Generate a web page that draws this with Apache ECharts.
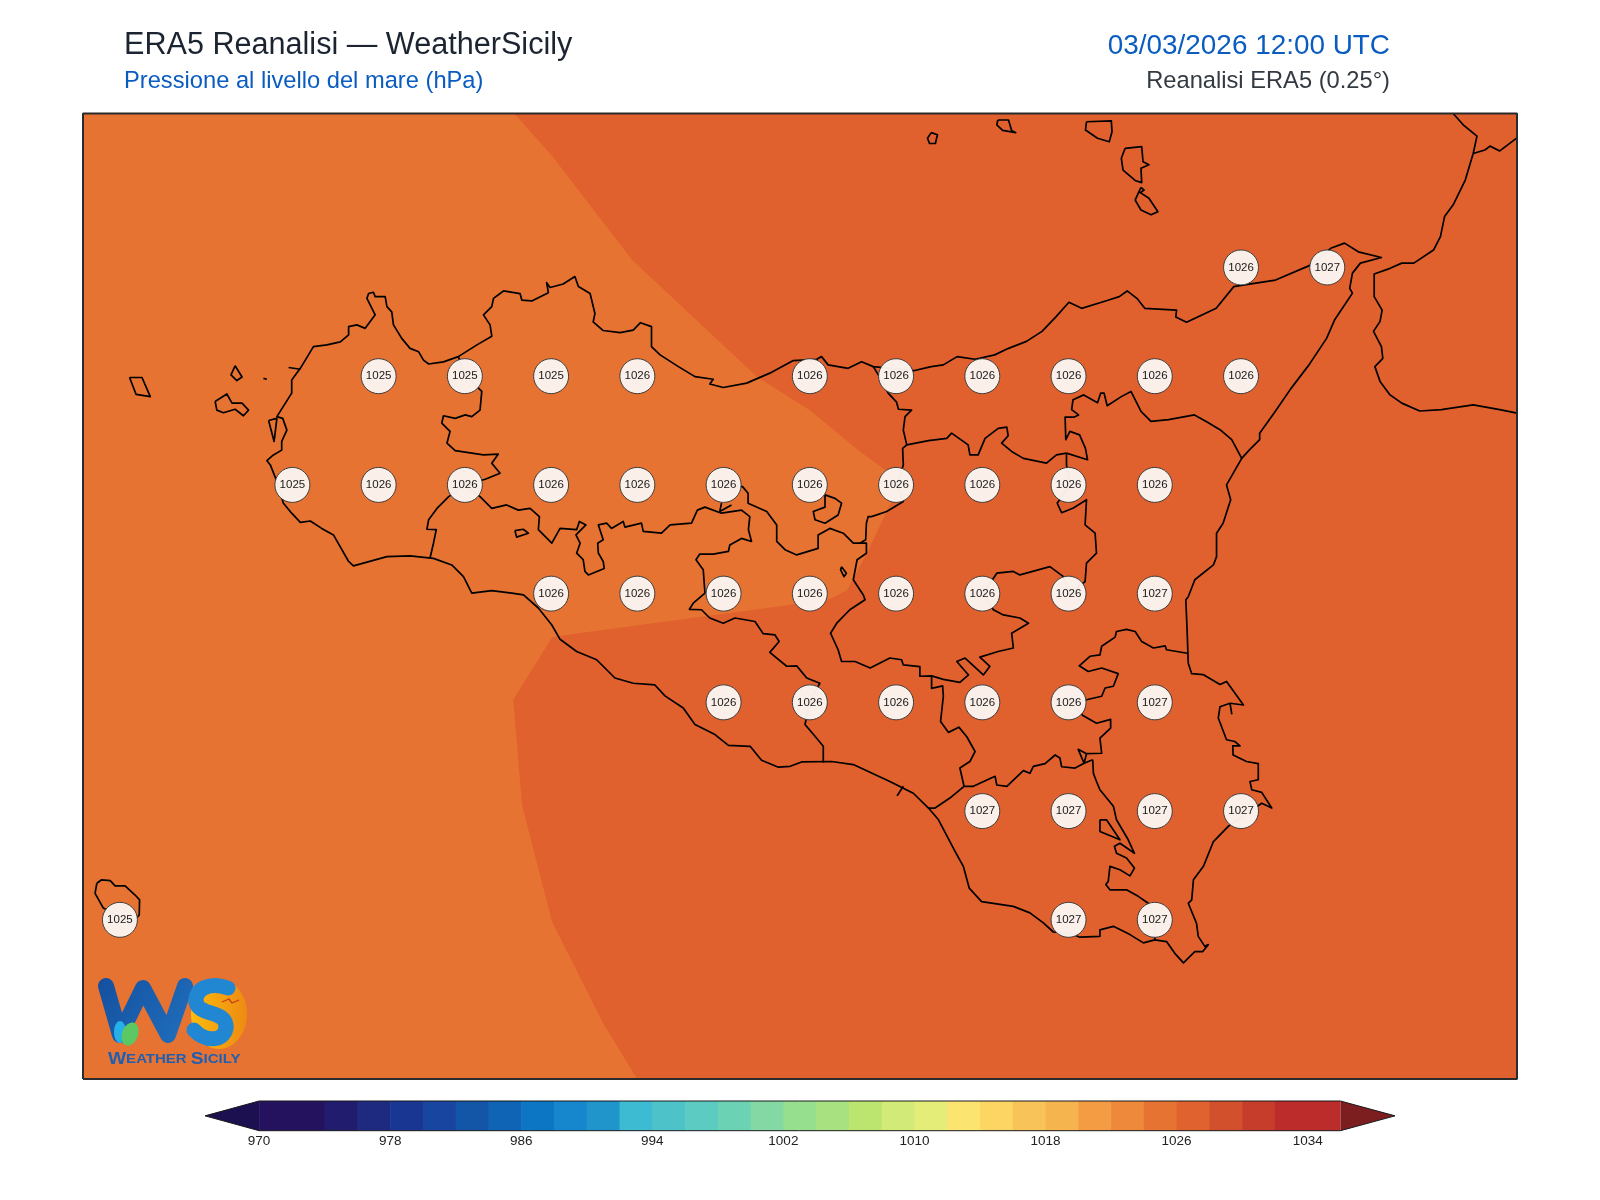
<!DOCTYPE html>
<html>
<head>
<meta charset="utf-8">
<title>ERA5 Reanalisi</title>
<script src="https://cdn.jsdelivr.net/npm/echarts@6/dist/echarts.min.js"></script>
<style>
  html, body { margin: 0; padding: 0; background: #fff; }
  #chart { width: 1600px; height: 1200px; }
</style>
</head>
<body>
<div id="chart"></div>
<script>
// map window, lon / lat degrees
const lonMin = 11.893
const lonMax = 16.05
const latMin = 36.384
const latMax = 38.604

// ERA5 grid points that get a pressure label
const pointLon = [
  15.25, 15.5,
  12.75, 13, 13.25, 13.5, 14, 14.25, 14.5, 14.75, 15, 15.25,
  12.5, 12.75, 13, 13.25, 13.5, 13.75, 14, 14.25, 14.5, 14.75, 15,
  13.25, 13.5, 13.75, 14, 14.25, 14.5, 14.75, 15,
  13.75, 14, 14.25, 14.5, 14.75, 15,
  14.5, 14.75, 15, 15.25,
  12, 14.75, 15
]
const pointLat = [
  38.25, 38.25,
  38, 38, 38, 38, 38, 38, 38, 38, 38, 38,
  37.75, 37.75, 37.75, 37.75, 37.75, 37.75, 37.75, 37.75, 37.75, 37.75, 37.75,
  37.5, 37.5, 37.5, 37.5, 37.5, 37.5, 37.5, 37.5,
  37.25, 37.25, 37.25, 37.25, 37.25, 37.25,
  37, 37, 37, 37,
  36.75, 36.75, 36.75
]
const pointHpa = [
  1026, 1027,
  1025, 1025, 1025, 1026, 1026, 1026, 1026, 1026, 1026, 1026,
  1025, 1026, 1026, 1026, 1026, 1026, 1026, 1026, 1026, 1026, 1026,
  1026, 1026, 1026, 1026, 1026, 1026, 1026, 1027,
  1026, 1026, 1026, 1026, 1026, 1027,
  1027, 1027, 1027, 1027,
  1025, 1027, 1027
]

// colour bar
const levels = [970, 972, 974, 976, 978, 980, 982, 984, 986, 988, 990, 992, 994, 996, 998, 1000, 1002,
  1004, 1006, 1008, 1010, 1012, 1014, 1016, 1018, 1020, 1022, 1024, 1026, 1028, 1030, 1032, 1034]
const levelColors = ['#24125E', '#24125E', '#211C6E', '#1E2A80', '#193692', '#17459F', '#1356A8', '#1064B5',
  '#0C76C5', '#1686CD', '#2095CC', '#3DBBD2', '#4DC2C8', '#5CCCC2', '#6BD3B3', '#84D8A4', '#96DF8F',
  '#A8E180', '#BBE56F', '#D2EA77', '#E3ED78', '#FCE470', '#FCD562', '#F8C45A', '#F6B44E', '#F39C43',
  '#EE893B', '#E77332', '#E0622E', '#D3502D', '#C63D2C', '#BC2C2B', '#BC2C2B']
const barTicks = [970, 978, 986, 994, 1002, 1010, 1018, 1026, 1034]
const barLow = 970
const barHigh = 1036
const extendLow = 966.7
const extendHigh = 1039.33
const underColor = '#1C1050'
const overColor = '#7C1D1F'

// filled pressure bands
const band1026 = [[lonMin, latMin], [lonMax, latMin], [lonMax, latMax], [lonMin, latMax]]
const band1024 = [[lonMin, latMax], [13.143, latMax], [13.25, 38.509], [13.485, 38.267], [13.847, 37.998],
  [13.999, 37.922], [14.146, 37.826], [14.238, 37.773], [14.253, 37.738], [14.218, 37.681], [14.166, 37.594],
  [14.108, 37.508], [14.053, 37.486], [13.276, 37.403], [13.253, 37.4], [13.14, 37.256], [13.166, 37.012],
  [13.253, 36.745], [13.398, 36.516], [13.499, latMin], [lonMin, latMin]]

// Sicily, anticlockwise from the Agrigento coast going west
const sicilyCoast = [[12.996, 37.539], [12.962, 37.566], [12.909, 37.581], [12.841, 37.587], [12.774, 37.585],
  [12.677, 37.564], [12.663, 37.574], [12.619, 37.635], [12.585, 37.65], [12.552, 37.667], [12.523, 37.664],
  [12.498, 37.685], [12.474, 37.708], [12.455, 37.758], [12.436, 37.796], [12.426, 37.806], [12.445, 37.819],
  [12.469, 37.83], [12.469, 37.85], [12.484, 37.876], [12.472, 37.903], [12.455, 37.907], [12.498, 37.961],
  [12.498, 37.991], [12.523, 38.018], [12.561, 38.068], [12.6, 38.072], [12.639, 38.079], [12.663, 38.095],
  [12.663, 38.114], [12.687, 38.118], [12.711, 38.11], [12.74, 38.141], [12.716, 38.179], [12.721, 38.19],
  [12.735, 38.193], [12.74, 38.183], [12.769, 38.183], [12.774, 38.16], [12.788, 38.148], [12.793, 38.118],
  [12.817, 38.087], [12.841, 38.064], [12.866, 38.056], [12.88, 38.037], [12.895, 38.028], [12.938, 38.033],
  [12.981, 38.045], [13.035, 38.072], [13.078, 38.092], [13.073, 38.118], [13.054, 38.141], [13.078, 38.16],
  [13.083, 38.179], [13.112, 38.196], [13.16, 38.19], [13.165, 38.175], [13.194, 38.173], [13.242, 38.192],
  [13.237, 38.215], [13.247, 38.204], [13.285, 38.212], [13.319, 38.229], [13.329, 38.206], [13.363, 38.19],
  [13.377, 38.144], [13.372, 38.125], [13.401, 38.105], [13.45, 38.1], [13.488, 38.106], [13.509, 38.123],
  [13.541, 38.114], [13.541, 38.068], [13.566, 38.049], [13.619, 38.022], [13.667, 37.999], [13.72, 37.993],
  [13.71, 37.982], [13.749, 37.974], [13.817, 37.984], [13.884, 38.007], [13.952, 38.036], [14.02, 38.039],
  [14.034, 38.045], [14.053, 38.026], [14.111, 38.018], [14.15, 38.033], [14.184, 38.022], [14.304, 38.013],
  [14.352, 38.022], [14.387, 38.026], [14.427, 38.045], [14.479, 38.039], [14.536, 38.049], [14.576, 38.064],
  [14.628, 38.08], [14.673, 38.103], [14.714, 38.137], [14.751, 38.17], [14.788, 38.156], [14.862, 38.174],
  [14.897, 38.183], [14.92, 38.196], [14.948, 38.179], [14.971, 38.156], [15.063, 38.152], [15.061, 38.136],
  [15.092, 38.124], [15.132, 38.139], [15.178, 38.156], [15.229, 38.206], [15.269, 38.211], [15.35, 38.221],
  [15.453, 38.256], [15.51, 38.294], [15.55, 38.306], [15.59, 38.286], [15.657, 38.273], [15.596, 38.26],
  [15.573, 38.237], [15.565, 38.202], [15.573, 38.191], [15.521, 38.129], [15.498, 38.087], [15.447, 38.026],
  [15.395, 37.972], [15.349, 37.919], [15.304, 37.869], [15.304, 37.854], [15.275, 37.831], [15.252, 37.811],
  [15.208, 37.75], [15.22, 37.716], [15.198, 37.662], [15.179, 37.639], [15.179, 37.585], [15.17, 37.566],
  [15.116, 37.532], [15.097, 37.493], [15.09, 37.486], [15.094, 37.409], [15.097, 37.34], [15.107, 37.316],
  [15.14, 37.314], [15.189, 37.291], [15.208, 37.298], [15.257, 37.244], [15.218, 37.248], [15.223, 37.224],
  [15.218, 37.248], [15.189, 37.24], [15.184, 37.214], [15.208, 37.164], [15.232, 37.16], [15.247, 37.15],
  [15.226, 37.15], [15.227, 37.129], [15.266, 37.114], [15.3, 37.109], [15.3, 37.072], [15.276, 37.068],
  [15.281, 37.049], [15.31, 37.043], [15.339, 37.007], [15.31, 37.018], [15.213, 36.965], [15.17, 36.93],
  [15.141, 36.873], [15.112, 36.842], [15.107, 36.796], [15.097, 36.788], [15.121, 36.742], [15.126, 36.712],
  [15.145, 36.689], [15.155, 36.693], [15.139, 36.677], [15.116, 36.677], [15.083, 36.651], [15.058, 36.673],
  [15.034, 36.7], [15, 36.704], [14.967, 36.697], [14.928, 36.716], [14.88, 36.735], [14.841, 36.727],
  [14.841, 36.712], [14.783, 36.71], [14.754, 36.719], [14.706, 36.722], [14.677, 36.743], [14.638, 36.766],
  [14.59, 36.781], [14.498, 36.792], [14.462, 36.823], [14.445, 36.873], [14.424, 36.903], [14.373, 36.98],
  [14.344, 37.007], [14.3, 37.041], [14.232, 37.068], [14.126, 37.107], [14.063, 37.114], [13.976, 37.113],
  [13.943, 37.103], [13.909, 37.101], [13.86, 37.117], [13.827, 37.149], [13.764, 37.151], [13.725, 37.176],
  [13.667, 37.199], [13.633, 37.237], [13.58, 37.265], [13.551, 37.29], [13.488, 37.294], [13.435, 37.306],
  [13.382, 37.348], [13.324, 37.367], [13.276, 37.395], [13.252, 37.428], [13.213, 37.467], [13.17, 37.497],
  [13.136, 37.501], [13.078, 37.507], [13.02, 37.501], [12.996, 37.539]]

// Calabria
const calabriaCoast = [[15.865, 38.604], [15.894, 38.578], [15.934, 38.552], [15.923, 38.512], [15.9, 38.451],
  [15.865, 38.394], [15.84, 38.367], [15.828, 38.321], [15.808, 38.29], [15.751, 38.26], [15.716, 38.26],
  [15.682, 38.248], [15.636, 38.235], [15.636, 38.183], [15.659, 38.152], [15.653, 38.126], [15.634, 38.103],
  [15.657, 38.068], [15.661, 38.041], [15.638, 38.022], [15.653, 37.988], [15.682, 37.957], [15.716, 37.938],
  [15.768, 37.92], [15.831, 37.923], [15.923, 37.934], [16, 37.923], [lonMax, 37.915]]
const calabriaNorth = [[15.923, 38.512], [15.957, 38.52], [15.972, 38.529], [16, 38.518], [lonMax, 38.548]]

// islands, closed when drawn
const marettimo = [[12.028, 37.997], [12.064, 37.997], [12.088, 37.953], [12.047, 37.958]]
const favignana = [[12.276, 37.942], [12.31, 37.959], [12.325, 37.938], [12.354, 37.938], [12.373, 37.922],
  [12.358, 37.909], [12.334, 37.924], [12.3, 37.916], [12.281, 37.922]]
const levanzo = [[12.334, 38.024], [12.354, 37.998], [12.339, 37.99], [12.322, 38.003]]
const stagnone = [[12.431, 37.898], [12.455, 37.903], [12.447, 37.85]]
const alicudi = [[14.352, 38.56], [14.37, 38.555], [14.364, 38.535], [14.347, 38.535], [14.341, 38.547]]
const filicudi = [[14.545, 38.589], [14.576, 38.589], [14.585, 38.565], [14.597, 38.56], [14.559, 38.565], [14.542, 38.578]]
const salina = [[14.802, 38.585], [14.874, 38.587], [14.876, 38.562], [14.868, 38.539], [14.834, 38.547], [14.799, 38.566]]
const lipari = [[14.914, 38.524], [14.962, 38.528], [14.966, 38.493], [14.983, 38.486], [14.96, 38.478],
  [14.962, 38.445], [14.943, 38.45], [14.908, 38.474], [14.903, 38.501]]
const vulcano = [[14.96, 38.434], [14.969, 38.428], [14.958, 38.422], [14.983, 38.409], [15.009, 38.378],
  [14.989, 38.371], [14.96, 38.382], [14.943, 38.405]]
const pantelleria = [[11.933, 36.834], [11.947, 36.842], [11.972, 36.84], [11.986, 36.828], [12.015, 36.828],
  [12.044, 36.807], [12.057, 36.796], [12.056, 36.761], [12.034, 36.742], [11.952, 36.777], [11.928, 36.811]]
const lakePiana = [[13.145, 37.645], [13.169, 37.648], [13.184, 37.639], [13.15, 37.63]]
const lakePozzillo = [[14.092, 37.562], [14.106, 37.547], [14.099, 37.539], [14.089, 37.555]]
const lakeFanaco = [[14.044, 37.727], [14.073, 37.719], [14.092, 37.708], [14.082, 37.681], [14.044, 37.662],
  [14.015, 37.67], [14.01, 37.689], [14.044, 37.699]]
const lakeLentini = [[14.841, 36.98], [14.86, 36.98], [14.899, 36.934], [14.841, 36.953]]
const enclaveCatania = [[14.802, 37.132], [14.778, 37.142], [14.795, 37.11]]

// small coast details
const formica = [[12.416, 37.995], [12.426, 37.993]]
const trapaniSpit = [[12.489, 38.02], [12.523, 38.016]]
const geloTick = [[14.271, 37.057], [14.253, 37.035]]

// provincial borders
const borderTrapaniEast = [[12.981, 38.045], [13.001, 38.003], [13.049, 37.965], [13.044, 37.922], [13.02, 37.907],
  [13.001, 37.911], [12.972, 37.903], [12.938, 37.909], [12.933, 37.892], [12.957, 37.873], [12.948, 37.846],
  [12.972, 37.829], [13.054, 37.819], [13.097, 37.821], [13.078, 37.8], [13.102, 37.777], [13.059, 37.763], [13.001, 37.75]]
const borderTrapaniSouth = [[13.001, 37.75], [12.953, 37.723], [12.919, 37.696], [12.895, 37.67], [12.89, 37.648],
  [12.917, 37.647], [12.909, 37.616], [12.899, 37.582]]
const borderPalermoSouth = [[13.001, 37.75], [13.044, 37.723], [13.078, 37.696], [13.121, 37.704], [13.155, 37.692],
  [13.189, 37.696], [13.216, 37.677], [13.213, 37.647], [13.252, 37.616], [13.276, 37.65], [13.324, 37.647],
  [13.332, 37.666], [13.351, 37.658], [13.322, 37.635], [13.334, 37.616], [13.324, 37.593], [13.343, 37.578],
  [13.348, 37.551], [13.358, 37.543], [13.404, 37.558], [13.401, 37.574], [13.387, 37.593], [13.385, 37.616],
  [13.401, 37.624], [13.387, 37.658], [13.411, 37.662], [13.425, 37.65], [13.459, 37.666], [13.464, 37.653],
  [13.512, 37.662], [13.517, 37.643], [13.57, 37.639], [13.595, 37.658], [13.657, 37.662], [13.674, 37.692],
  [13.696, 37.699], [13.744, 37.685], [13.802, 37.692], [13.826, 37.677], [13.822, 37.647], [13.831, 37.62],
  [13.802, 37.627], [13.768, 37.612], [13.764, 37.597], [13.72, 37.591], [13.681, 37.591], [13.67, 37.578],
  [13.691, 37.555], [13.696, 37.501], [13.662, 37.478], [13.651, 37.464], [13.686, 37.463], [13.71, 37.444],
  [13.749, 37.432], [13.783, 37.444], [13.841, 37.436], [13.865, 37.408], [13.899, 37.405], [13.911, 37.39],
  [13.884, 37.365], [13.933, 37.333], [13.962, 37.334], [13.991, 37.306], [14.029, 37.294], [14, 37.252],
  [13.986, 37.199], [14.015, 37.172], [14.039, 37.149], [14.039, 37.112]]
const borderMadonie = [[13.75, 37.75], [13.805, 37.746], [13.821, 37.731], [13.821, 37.708], [13.875, 37.689],
  [13.904, 37.658], [13.904, 37.62], [13.928, 37.601], [13.962, 37.589], [14.024, 37.604], [14.024, 37.635],
  [14.058, 37.65], [14.097, 37.639], [14.126, 37.616], [14.164, 37.616], [14.164, 37.593], [14.137, 37.578],
  [14.126, 37.532], [14.155, 37.497], [14.16, 37.486], [14.116, 37.463], [14.078, 37.432], [14.06, 37.409],
  [14.082, 37.371], [14.092, 37.344], [14.131, 37.344], [14.175, 37.329], [14.232, 37.352], [14.266, 37.348],
  [14.271, 37.336], [14.319, 37.332], [14.319, 37.31], [14.353, 37.311], [14.387, 37.303], [14.435, 37.296],
  [14.46, 37.313], [14.426, 37.344], [14.45, 37.352], [14.503, 37.313], [14.522, 37.333], [14.493, 37.354],
  [14.546, 37.367], [14.59, 37.375], [14.585, 37.409], [14.634, 37.432], [14.609, 37.444], [14.561, 37.451],
  [14.532, 37.463], [14.503, 37.501], [14.542, 37.547], [14.59, 37.551], [14.609, 37.543], [14.696, 37.562],
  [14.735, 37.539], [14.754, 37.501], [14.798, 37.528], [14.802, 37.57], [14.831, 37.593], [14.827, 37.639],
  [14.798, 37.658], [14.802, 37.716], [14.764, 37.697], [14.73, 37.686], [14.717, 37.708], [14.754, 37.75],
  [14.744, 37.796], [14.744, 37.823]]
const borderNebrodi = [[14.744, 37.823], [14.715, 37.819], [14.686, 37.8], [14.619, 37.811], [14.585, 37.827],
  [14.556, 37.846], [14.575, 37.863], [14.571, 37.883], [14.546, 37.88], [14.508, 37.857], [14.488, 37.819],
  [14.464, 37.819], [14.459, 37.842], [14.411, 37.869], [14.397, 37.857], [14.344, 37.852], [14.281, 37.842],
  [14.269, 37.834], [14.271, 37.796], [14.252, 37.75], [14.271, 37.712], [14.223, 37.689], [14.179, 37.677],
  [14.169, 37.677], [14.164, 37.662], [14.162, 37.624], [14.145, 37.616]]
const borderTusa = [[14.184, 38.022], [14.208, 37.991], [14.227, 37.961], [14.251, 37.941], [14.257, 37.924],
  [14.295, 37.922], [14.276, 37.907], [14.271, 37.876], [14.281, 37.842]]
const borderMessina = [[14.744, 37.823], [14.805, 37.808], [14.799, 37.834], [14.782, 37.865], [14.754, 37.873],
  [14.742, 37.854], [14.74, 37.906], [14.767, 37.906], [14.779, 37.911], [14.759, 37.923], [14.763, 37.946],
  [14.794, 37.957], [14.834, 37.939], [14.843, 37.961], [14.853, 37.961], [14.862, 37.932], [14.903, 37.953],
  [14.931, 37.965], [14.96, 37.919], [14.989, 37.896], [15.04, 37.9], [15.115, 37.911], [15.149, 37.896],
  [15.189, 37.877], [15.223, 37.854], [15.252, 37.811]]
const borderCataniaSouth = [[15.094, 37.363], [15.034, 37.371], [15.03, 37.38], [14.996, 37.375], [14.962, 37.39],
  [14.943, 37.413], [14.918, 37.418], [14.889, 37.413], [14.885, 37.4], [14.846, 37.379], [14.841, 37.359],
  [14.812, 37.356], [14.781, 37.334], [14.807, 37.321], [14.846, 37.329], [14.894, 37.316], [14.88, 37.287],
  [14.856, 37.283], [14.846, 37.264], [14.802, 37.256], [14.752, 37.25], [14.793, 37.219], [14.831, 37.202],
  [14.872, 37.211], [14.872, 37.191], [14.841, 37.168], [14.846, 37.133], [14.802, 37.132]]
const borderRagusaNorth = [[14.82, 37.118], [14.795, 37.11], [14.769, 37.099], [14.73, 37.102], [14.725, 37.122],
  [14.711, 37.129], [14.682, 37.109], [14.648, 37.103], [14.638, 37.087], [14.619, 37.093], [14.571, 37.057],
  [14.542, 37.06], [14.537, 37.08], [14.474, 37.057], [14.447, 37.057], [14.406, 37.03], [14.363, 37.007], [14.344, 37.007]]
const borderCaltanissettaSouth = [[14.447, 37.057], [14.435, 37.099], [14.464, 37.114], [14.479, 37.137], [14.455, 37.171],
  [14.432, 37.193], [14.402, 37.181], [14.379, 37.206], [14.387, 37.264], [14.385, 37.288], [14.353, 37.282], [14.353, 37.311]]
const borderSiracusa = [[14.82, 37.118], [14.822, 37.087], [14.831, 37.068], [14.841, 37.049], [14.88, 37.011],
  [14.889, 36.98], [14.923, 36.934], [14.941, 36.903], [14.899, 36.926], [14.883, 36.919], [14.889, 36.903],
  [14.918, 36.892], [14.941, 36.869], [14.928, 36.851], [14.899, 36.865], [14.87, 36.873], [14.865, 36.838],
  [14.858, 36.831], [14.87, 36.819], [14.918, 36.819], [14.952, 36.804], [14.981, 36.788], [15, 36.75], [15, 36.704]]
const lakeCorleone = [[13.744, 37.708], [13.739, 37.689], [13.773, 37.704]]

const openLines = [sicilyCoast, calabriaCoast, calabriaNorth, formica, trapaniSpit, geloTick, borderTrapaniEast,
  borderTrapaniSouth, borderPalermoSouth, borderMadonie, borderNebrodi, borderTusa, borderMessina, borderCataniaSouth,
  borderRagusaNorth, borderCaltanissettaSouth, borderSiracusa, lakeCorleone]
const closedLines = [marettimo, favignana, levanzo, stagnone, alicudi, filicudi, salina, lipari, vulcano, pantelleria,
  lakePiana, lakePozzillo, lakeFanaco, lakeLentini, enclaveCatania]

const FONT = 'Liberation Sans'
const chart = echarts.init(document.getElementById('chart'), null, { renderer: 'canvas' })

const polygonSeries = (points, fill) => ({
  type: 'custom',
  coordinateSystem: 'cartesian2d',
  xAxisIndex: 0,
  yAxisIndex: 0,
  z: 1,
  silent: true,
  clip: true,
  data: points,
  renderItem: (params, api) => {
    if (params.dataIndex !== 0) return null
    return {
      type: 'polygon',
      shape: { points: points.map(p => api.coord(p)) },
      style: { fill }
    }
  }
})

const lineSeries = points => ({
  type: 'line',
  xAxisIndex: 0,
  yAxisIndex: 0,
  z: 2,
  silent: true,
  clip: true,
  showSymbol: false,
  smooth: false,
  animation: false,
  lineStyle: { color: '#000', width: 1.7, join: 'round' },
  data: points
})

const barSeries = {
  type: 'custom',
  coordinateSystem: 'cartesian2d',
  xAxisIndex: 1,
  yAxisIndex: 1,
  z: 2,
  silent: true,
  data: levels,
  renderItem: (params, api) => {
    const level = levels[params.dataIndex]
    const a = api.coord([level, 0])
    const b = api.coord([level + 2, 1])
    // a hair of overlap so no seam shows between bands
    const overlap = params.dataIndex < levels.length - 1 ? 0.6 : 0
    return {
      type: 'rect',
      shape: { x: a[0], y: b[1], width: b[0] - a[0] + overlap, height: a[1] - b[1] },
      style: { fill: levelColors[params.dataIndex] }
    }
  }
}

const triangleSeries = (edge, tip, fill) => ({
  type: 'custom',
  coordinateSystem: 'cartesian2d',
  xAxisIndex: 1,
  yAxisIndex: 1,
  z: 2,
  silent: true,
  clip: false,
  data: [edge],
  renderItem: (params, api) => ({
    type: 'polygon',
    shape: { points: [api.coord([edge, 0]), api.coord([tip, 0.5]), api.coord([edge, 1])] },
    style: { fill }
  })
})

const logoS = { fill: null, stroke: '#2287D2', lineWidth: 15, lineCap: 'round' }

const option = {
  animation: false,
  backgroundColor: '#fff',
  textStyle: { fontFamily: FONT },
  title: [
    { text: 'ERA5 Reanalisi — WeatherSicily', left: 119, top: 25, textStyle: { fontFamily: FONT, fontSize: 30.6, fontWeight: 'normal', color: '#1B2430' } },
    { text: 'Pressione al livello del mare (hPa)', left: 119, top: 64, textStyle: { fontFamily: FONT, fontSize: 23.7, fontWeight: 'normal', color: '#0A5CC0' } },
    { text: '03/03/2026 12:00 UTC', right: 205, top: 27, textStyle: { fontFamily: FONT, fontSize: 27.9, fontWeight: 'normal', color: '#0A5CC0' } },
    { text: 'Reanalisi ERA5 (0.25°)', right: 205, top: 64, textStyle: { fontFamily: FONT, fontSize: 23.7, fontWeight: 'normal', color: '#333a42' } }
  ],
  grid: [
    { left: 83, top: 113.5, width: 1434, height: 965.5 },
    { left: 205, top: 1101, width: 1190, height: 29.7 }
  ],
  xAxis: [
    { type: 'value', gridIndex: 0, min: lonMin, max: lonMax, show: false },
    {
      type: 'value',
      gridIndex: 1,
      min: extendLow,
      max: extendHigh,
      axisLine: { show: false },
      axisTick: { show: false },
      splitLine: { show: false },
      axisLabel: {
        customValues: barTicks,
        fontFamily: FONT,
        fontSize: 13.5,
        color: '#222',
        margin: 4,
        formatter: v => String(v)
      }
    }
  ],
  yAxis: [
    { type: 'value', gridIndex: 0, min: latMin, max: latMax, show: false },
    { type: 'value', gridIndex: 1, min: 0, max: 1, show: false }
  ],
  series: [
    polygonSeries(band1026, '#E0612D'),
    polygonSeries(band1024, '#E77332'),
    ...openLines.map(lineSeries),
    ...closedLines.map(l => lineSeries([...l, l[0]])),
    {
      type: 'scatter',
      xAxisIndex: 0,
      yAxisIndex: 0,
      z: 3,
      silent: true,
      symbol: 'circle',
      symbolSize: 35,
      itemStyle: { color: '#FBF4EF', opacity: 0.97, borderColor: '#3a3a3a', borderWidth: 1 },
      label: {
        show: true,
        position: 'inside',
        fontFamily: FONT,
        fontSize: 11.5,
        color: '#111',
        formatter: p => String(p.value[2])
      },
      data: pointHpa.map((hpa, i) => [pointLon[i], pointLat[i], hpa])
    },
    // map frame
    {
      type: 'line',
      xAxisIndex: 0,
      yAxisIndex: 0,
      z: 4,
      silent: true,
      clip: false,
      showSymbol: false,
      lineStyle: { color: '#2b2b2b', width: 2 },
      data: [[lonMin, latMin], [lonMax, latMin], [lonMax, latMax], [lonMin, latMax], [lonMin, latMin]]
    },
    barSeries,
    triangleSeries(barLow, extendLow, underColor),
    triangleSeries(barHigh, extendHigh, overColor),
    {
      type: 'line',
      xAxisIndex: 1,
      yAxisIndex: 1,
      z: 3,
      silent: true,
      clip: false,
      showSymbol: false,
      lineStyle: { color: '#1a1a1a', width: 1 },
      data: [[barLow, 0], [extendLow, 0.5], [barLow, 1], [barHigh, 1], [extendHigh, 0.5], [barHigh, 0], [barLow, 0]]
    }
  ],
  // WeatherSicily logo
  graphic: [
    { type: 'ellipse', z: 5, shape: { cx: 219, cy: 1014, rx: 28, ry: 35 }, style: { fill: { type: 'linear', x: 0, y: 0, x2: 1, y2: 0, colorStops: [{ offset: 0, color: '#FDBB0E' }, { offset: 1, color: '#EE8A12' }] } } },
    { type: 'polyline', z: 6, shape: { points: [[106, 986], [120, 1035], [143, 988], [168, 1035], [185, 986]] }, style: { fill: null, lineWidth: 16, lineCap: 'round', lineJoin: 'round', stroke: { type: 'linear', x: 0, y: 0, x2: 1, y2: 1, colorStops: [{ offset: 0, color: '#144F9E' }, { offset: 1, color: '#2070BE' }] } } },
    { type: 'bezierCurve', z: 7, shape: { x1: 228, y1: 988, cpx1: 210, cpy1: 982, cpx2: 195, cpy2: 988, x2: 196, y2: 1002 }, style: logoS },
    { type: 'bezierCurve', z: 7, shape: { x1: 196, y1: 1002, cpx1: 198, cpy1: 1016, cpx2: 228, cpy2: 1010, x2: 226, y2: 1028 }, style: logoS },
    { type: 'bezierCurve', z: 7, shape: { x1: 226, y1: 1028, cpx1: 224, cpy1: 1042, cpx2: 205, cpy2: 1042, x2: 194, y2: 1030 }, style: logoS },
    { type: 'ellipse', z: 7, shape: { cx: 120, cy: 1032, rx: 6, ry: 11 }, style: { fill: '#25B0E8' } },
    { type: 'ellipse', z: 8, rotation: -0.35, originX: 130, originY: 1034, shape: { cx: 130, cy: 1034, rx: 8, ry: 12 }, style: { fill: '#5CC864' } },
    { type: 'polyline', z: 8, shape: { points: [[222, 1002], [229, 999], [232, 1003], [239, 1000]] }, style: { fill: null, stroke: '#C2401C', lineWidth: 1.3 } },
    {
      type: 'text',
      z: 8,
      originX: 108,
      originY: 1052,
      scaleX: 1.2,
      style: {
        x: 108,
        y: 1052,
        text: '{a|W}{b|EATHER} {a|S}{b|ICILY}',
        rich: {
          a: { fontFamily: FONT, fontWeight: 'bold', fontSize: 16, fill: '#1D5FB2' },
          b: { fontFamily: FONT, fontWeight: 'bold', fontSize: 12.5, fill: '#1D5FB2' }
        },
        fill: '#1D5FB2'
      }
    }
  ]
}

chart.setOption(option)
</script>
</body>
</html>
